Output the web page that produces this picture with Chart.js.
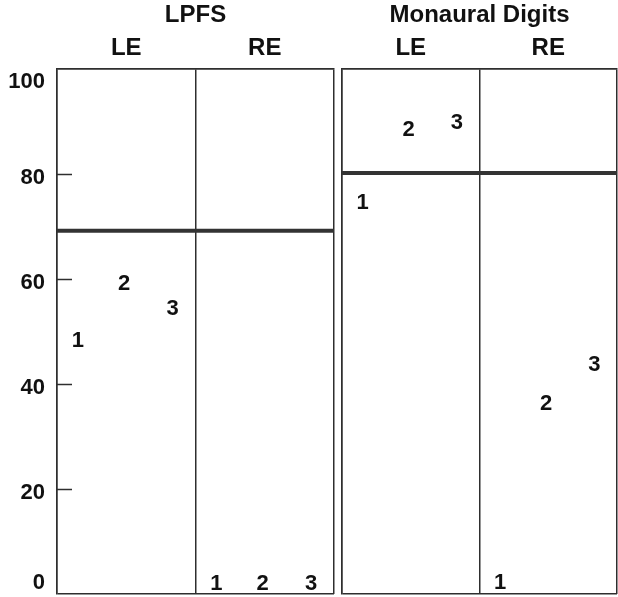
<!DOCTYPE html>
<html>
<head>
<meta charset="utf-8">
<script src="https://cdn.jsdelivr.net/npm/chart.js@4.4.1/dist/chart.umd.min.js"></script>
<style>
  body { margin: 0; background: #fff; }
  #wrap { position: relative; width: 618px; height: 597px; }
  canvas { position: absolute; top: 0; }
</style>
</head>
<body>
<div id="wrap">
  <canvas id="lpfs" width="338" height="597" style="left:0"></canvas>
  <canvas id="digits" width="280" height="597" style="left:338px"></canvas>
</div>
<script>
const categories = ['LE', 'RE']
const groups = ['1', '2', '3']
const xSlots = [0.15, 0.485, 0.835]
const yTicks = [0, 20, 40, 60, 80, 100]

const lpfsLE = [48.4, 59.2, 54.4]
const lpfsRE = [2.1, 2.1, 2.1]
const digitsLE = [74.7, 88.5, 89.9]
const digitsRE = [2.3, 36.3, 43.9]

const lpfsCutoff = 69.2
const digitsCutoff = 80.2

const FONT = '"Liberation Sans", Arial, Helvetica, sans-serif'
const INK = '#111'
const LINE = '#2e2e2e'
Chart.defaults.font.family = FONT

// no extra room for overhanging tick labels, the panel frame is fixed
function noPad(axis) {
  axis.paddingLeft = 0
  axis.paddingRight = 0
  axis.paddingTop = 0
  axis.paddingBottom = 0
}

// end labels sit inside the frame in the original, so push them in
// with a blank second line (its lineHeight sets the shift)
function yLabel(v) {
  if (v === 100) return ['', '100']
  if (v === 0) return ['0', '']
  return String(v)
}
function yFont(c) {
  const v = c.tick ? c.tick.value : null
  let lh = 1.2
  if (v === 100) lh = '18px'
  if (v === 0) lh = '30px'
  return { size: 22, weight: 'bold', lineHeight: lh }
}

// draws the 1/2/3 numerals at the points and the short inner y ticks
const markPlugin = {
  id: 'marks',
  afterDatasetsDraw(chart, args, opts) {
    const ctx = chart.ctx
    const y = chart.scales.y
    const area = chart.chartArea
    ctx.save()
    if (opts.innerTicks) {
      ctx.strokeStyle = LINE
      ctx.lineWidth = 1.5
      yTicks.forEach(v => {
        if (v === 0 || v === 100) return
        const py = Math.round(y.getPixelForValue(v)) + 0.5
        ctx.beginPath()
        ctx.moveTo(area.left, py)
        ctx.lineTo(area.left + 15, py)
        ctx.stroke()
      })
    }
    ctx.fillStyle = INK
    ctx.font = 'bold 22px ' + FONT
    ctx.textAlign = 'center'
    ctx.textBaseline = 'middle'
    chart.data.datasets.forEach((ds, i) => {
      if (ds.label !== 'scores') return
      chart.getDatasetMeta(i).data.forEach((el, j) => {
        ctx.fillText(groups[j % groups.length], el.x, el.y + 1)
      })
    })
    ctx.restore()
  }
}

function makePanel(id, title, le, re, cutoff, showY) {
  const points = le.map((v, i) => ({ x: xSlots[i], y: v }))
    .concat(re.map((v, i) => ({ x: 1 + xSlots[i], y: v })))
  const cut = [{ x: 0, y: cutoff }, { x: 2, y: cutoff }]

  return new Chart(document.getElementById(id), {
    type: 'scatter',
    data: {
      datasets: [
        { label: 'scores', data: points, pointRadius: 0 },
        { label: 'cut', data: cut, showLine: true, borderColor: '#333', borderWidth: 4, pointRadius: 0 },
        { label: 'cut2', data: cut, showLine: true, borderColor: '#aaa', borderWidth: 1.2, pointRadius: 0 }
      ]
    },
    options: {
      responsive: false,
      animation: false,
      events: [],
      layout: { padding: { left: 0, right: showY ? 4 : 1, top: 0, bottom: 3 } },
      plugins: {
        legend: { display: false },
        tooltip: { enabled: false },
        title: {
          display: true,
          text: title,
          fullSize: false,
          color: INK,
          font: { size: 24, weight: 'bold' },
          padding: { top: 1, bottom: 4.6 }
        },
        marks: { innerTicks: showY }
      },
      scales: {
        x: {
          type: 'linear',
          position: 'top',
          min: 0,
          max: 2,
          afterBuildTicks: axis => { axis.ticks = [0, 0.5, 1, 1.5, 2].map(v => ({ value: v })) },
          afterFit: axis => { axis.height = 34.6; noPad(axis) },
          ticks: {
            autoSkip: false,
            maxRotation: 0,
            padding: 6.6,
            color: INK,
            font: { size: 24, weight: 'bold' },
            callback: v => (v % 1 === 0.5 ? categories[Math.floor(v)] : '')
          },
          grid: {
            drawTicks: false,
            lineWidth: 1.5,
            color: c => (c.tick && c.tick.value % 1 === 0 ? LINE : 'rgba(0,0,0,0)')
          },
          border: { display: true, color: LINE, width: 1.5 }
        },
        y: {
          min: 0,
          max: 100,
          afterBuildTicks: axis => { axis.ticks = yTicks.map(v => ({ value: v })) },
          afterFit: axis => { axis.width = showY ? 57 : 4; noPad(axis) },
          ticks: {
            display: showY,
            padding: 12,
            labelOffset: 4,
            color: INK,
            font: yFont,
            callback: yLabel
          },
          grid: {
            drawTicks: false,
            lineWidth: 1.5,
            color: c => (c.tick && (c.tick.value === 0 || c.tick.value === 100) ? LINE : 'rgba(0,0,0,0)')
          },
          border: { display: true, color: LINE, width: 1.5 }
        }
      }
    },
    plugins: [markPlugin]
  })
}

makePanel('lpfs', 'LPFS', lpfsLE, lpfsRE, lpfsCutoff, true)
makePanel('digits', 'Monaural Digits', digitsLE, digitsRE, digitsCutoff, false)
</script>
</body>
</html>
